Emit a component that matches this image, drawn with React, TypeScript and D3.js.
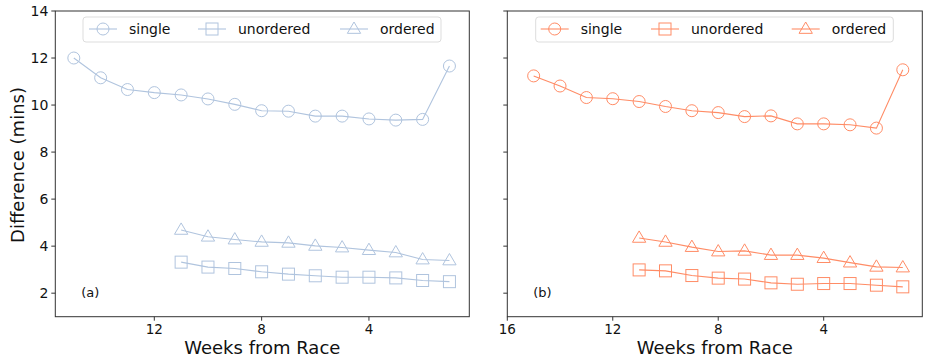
import * as d3 from "d3";

const weeksSingle = [15, 14, 13, 12, 11, 10, 9, 8, 7, 6, 5, 4, 3, 2, 1];
const weeksMulti = [11, 10, 9, 8, 7, 6, 5, 4, 3, 2, 1];

const singleA = [12.0, 11.16, 10.66, 10.53, 10.43, 10.26, 10.03, 9.76, 9.74, 9.53, 9.53, 9.41, 9.36, 9.39, 11.66];
const unorderedA = [3.32, 3.11, 3.05, 2.91, 2.81, 2.74, 2.68, 2.68, 2.65, 2.54, 2.49];
const orderedA = [4.69, 4.4, 4.28, 4.18, 4.14, 4.01, 3.94, 3.83, 3.73, 3.43, 3.39];

const singleB = [11.24, 10.81, 10.32, 10.27, 10.15, 9.94, 9.76, 9.68, 9.51, 9.54, 9.2, 9.2, 9.16, 9.02, 11.5];
const unorderedB = [2.99, 2.95, 2.75, 2.64, 2.6, 2.44, 2.38, 2.41, 2.41, 2.34, 2.27];
const orderedB = [4.35, 4.18, 3.96, 3.77, 3.8, 3.62, 3.62, 3.49, 3.3, 3.12, 3.09];

const seriesNames = ["single", "unordered", "ordered"];
const yTicks = [2, 4, 6, 8, 10, 12, 14];
const xTicksA = [12, 8, 4];
const xTicksB = [16, 12, 8, 4];

type Shape = "circle" | "square" | "triangle";
const shapes: Shape[] = ["circle", "square", "triangle"];

const FONT = "DejaVu Sans, sans-serif";
const TOP = 11;
const BOTTOM = 316.7;

function Marker({ shape, x, y, color }: { shape: Shape; x: number; y: number; color: string }) {
  if (shape === "circle") return <circle cx={x} cy={y} r={6} fill="none" stroke={color} strokeWidth={1} />;
  if (shape === "square") return <rect x={x - 6} y={y - 6} width={12} height={12} fill="none" stroke={color} strokeWidth={1} />;
  const s = 7;
  return (
    <path
      d={`M${x},${y - s}L${x + s * 0.95},${y + s * 0.62}L${x - s * 0.95},${y + s * 0.62}Z`}
      fill="none"
      stroke={color}
      strokeWidth={1}
    />
  );
}

type PanelProps = {
  left: number;
  right: number;
  xDomain: [number, number];
  xTicks: number[];
  data: number[][];
  color: string;
  tag: string;
  showY: boolean;
  legend: { x0: number; x1: number; items: number[] };
};

function Panel({ left, right, xDomain, xTicks, data, color, tag, showY, legend }: PanelProps) {
  const x = d3.scaleLinear(xDomain, [left, right]);
  const y = d3.scaleLinear([1, 14], [BOTTOM, TOP]);
  const xs = [weeksSingle, weeksMulti, weeksMulti];
  const line = d3
    .line<[number, number]>()
    .x((d) => x(d[0]))
    .y((d) => y(d[1]));

  return (
    <g>
      {data.map((vals, si) => {
        const pts = vals.map((v, i) => [xs[si][i], v] as [number, number]);
        return (
          <g key={si}>
            <path d={line(pts) ?? undefined} fill="none" stroke={color} strokeWidth={1.1} />
            {pts.map((p, i) => (
              <Marker key={i} shape={shapes[si]} x={x(p[0])} y={y(p[1])} color={color} />
            ))}
          </g>
        );
      })}
      <rect x={left} y={TOP} width={right - left} height={BOTTOM - TOP} fill="none" stroke="#333" strokeWidth={1} />
      {yTicks.map((t) => (
        <g key={t}>
          <line x1={left - 4} x2={left} y1={y(t)} y2={y(t)} stroke="#333" />
          {showY && (
            <text x={left - 7} y={y(t)} dy="0.35em" textAnchor="end" fontSize={14} fill="#111" fontFamily={FONT}>
              {t}
            </text>
          )}
        </g>
      ))}
      {xTicks.map((t) => (
        <g key={t}>
          <line x1={x(t)} x2={x(t)} y1={BOTTOM} y2={BOTTOM + 4} stroke="#333" />
          <text x={x(t)} y={BOTTOM + 17} textAnchor="middle" fontSize={13.5} fill="#111" fontFamily={FONT}>
            {t}
          </text>
        </g>
      ))}
      <text x={(left + right) / 2} y={354} textAnchor="middle" fontSize={18} fill="#111" fontFamily={FONT}>
        Weeks from Race
      </text>
      <text x={x(xDomain[0]) + 26} y={y(2.05)} dy="0.35em" fontSize={13} fill="#111" fontFamily={FONT}>
        {tag}
      </text>
      <rect x={legend.x0} y={17} width={legend.x1 - legend.x0} height={25} rx={3} fill="white" fillOpacity={0.8} stroke="#ddd" />
      {seriesNames.map((name, i) => {
        const hx = legend.items[i];
        return (
          <g key={name}>
            <line x1={hx} x2={hx + 28} y1={29} y2={29} stroke={color} strokeWidth={1.1} />
            <Marker shape={shapes[i]} x={hx + 14} y={29} color={color} />
            <text x={hx + 40} y={29} dy="0.35em" fontSize={14} fill="#111" fontFamily={FONT}>
              {name}
            </text>
          </g>
        );
      })}
    </g>
  );
}

export default function App() {
  const width = 926;
  const height = 360;
  return (
    <svg width={width} height={height} viewBox={`0 0 ${width} ${height}`} style={{ display: "block", position: "absolute", left: 0, top: 0 }}>
      <rect width={width} height={height} fill="white" />
      <text
        x={18}
        y={165}
        textAnchor="middle"
        dy="0.35em"
        fontSize={18}
        fill="#111"
        fontFamily={FONT}
        transform={`rotate(-90 18 165)`}
      >
        Difference (mins)
      </text>
      <Panel
        left={55.3}
        right={469.3}
        xDomain={[15.69, 0.26]}
        xTicks={xTicksA}
        data={[singleA, unorderedA, orderedA]}
        color="#b0c4de"
        tag="(a)"
        showY={true}
        legend={{ x0: 83, x1: 441, items: [89, 198, 340] }}
      />
      <Panel
        left={507.3}
        right={922.3}
        xDomain={[16, 0.26]}
        xTicks={xTicksB}
        data={[singleB, unorderedB, orderedB]}
        color="#ff8c66"
        tag="(b)"
        showY={false}
        legend={{ x0: 535.7, x1: 893.3, items: [540.7, 651, 791.7] }}
      />
    </svg>
  );
}
